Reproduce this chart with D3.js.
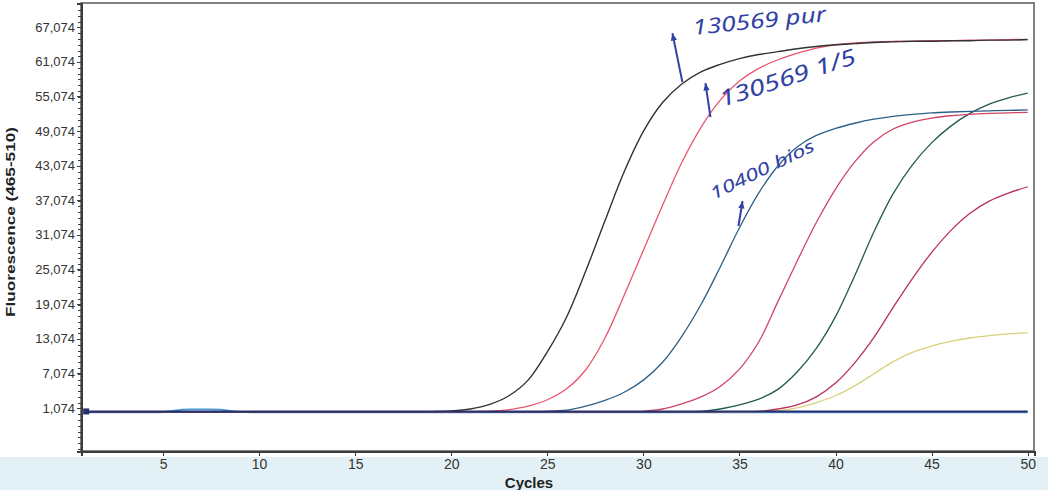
<!DOCTYPE html>
<html lang="en">
<head>
  <meta charset="UTF-8">
  <title>Amplification curves</title>
  <script src="https://d3js.org/d3.v7.min.js"></script>
  <style>
    body { margin: 0; background: #ffffff; }

    /* axis lines and ticks */
    .axis path,
    .axis line {
      fill: none;
      stroke: #3c3c3c;
      shape-rendering: crispEdges;
    }

    .axis text {
      font-family: "Liberation Sans", Arial, sans-serif;
      font-size: 13px;
      fill: #333;
    }

    .axis-label {
      font-family: "Liberation Sans", Arial, sans-serif;
      font-weight: bold;
      font-size: 13px;
      fill: #222;
    }

    .note {
      font-family: "Noto Sans", sans-serif;
      font-style: italic;
      fill: #3242a4;
    }
  </style>
</head>
<body>
<svg id="chart" width="1048" height="490"></svg>
<script>
  // cycle numbers (x) and read-off fluorescence values per run
  const cycles = [1,2,3,4,5,6,7,8,9,10,11,12,13,14,15,16,17,18,19,20,21,22,23,24,25,
                  26,27,28,29,30,31,32,33,34,35,36,37,38,39,40,41,42,43,44,45,46,47,48,49,50];

  const pur = [420,410,400,400,400,410,400,400,400,400,400,400,400,400,400,410,420,430,450,
               550,900,1700,3200,5900,10800,16800,24800,33500,42000,49000,54000,57200,59300,60600,61600,
               62300,62800,63300,63700,64000,64200,64400,64500,64600,64600,64700,64700,64800,64800,64900];

  const dil5 = [400,400,390,390,400,400,400,400,390,390,400,400,400,400,400,400,400,410,410,420,440,
                520,800,1400,2500,4400,7700,13200,20600,28400,36200,43600,49700,54400,57700,59900,61400,
                62500,63400,64000,64300,64500,64600,64600,64700,64700,64800,64800,64900,64900];

  const bios = [400,400,400,400,400,400,400,400,400,400,400,400,400,400,400,400,400,400,400,400,
                410,420,430,450,500,700,1400,2400,3800,5900,9000,13500,19000,25500,32300,38300,43000,
                46300,48300,49500,50400,51100,51600,51950,52200,52350,52450,52550,52620,52700];

  const run4 = [400,400,400,400,400,400,400,400,400,400,400,400,400,400,400,400,400,400,400,400,
                400,400,400,400,400,400,410,420,440,500,900,1800,3000,4800,7800,12500,19500,26500,33200,
                39000,43700,47200,49400,50600,51300,51700,51950,52100,52200,52300];

  const run5 = [400,400,400,400,400,400,400,400,400,400,400,400,400,400,400,400,400,400,400,400,
                400,400,400,400,400,400,400,400,400,400,400,450,500,900,1600,2600,4300,7300,11400,16900,
                24000,31600,38200,43200,47000,49900,52100,53700,54800,55600];

  const run6 = [400,400,400,400,400,400,400,400,400,400,400,400,400,400,400,400,400,400,400,400,
                400,400,400,400,400,400,400,400,400,400,400,400,400,420,450,500,900,1600,3000,5400,
                8900,13300,18500,23500,28000,31800,34800,36900,38300,39400];

  const run7 = [400,400,400,400,400,400,400,400,400,400,400,400,400,400,400,400,400,400,400,400,
                400,400,400,400,400,400,400,400,400,400,400,400,400,400,420,450,600,1100,2000,3200,
                4900,7000,9100,10700,11800,12600,13200,13600,13900,14100];

  // negative / flat runs
  const flatBlue = [300,300,310,310,380,800,820,780,400,320,310,300,300,300,300,300,300,300,300,300,
                    300,300,300,300,300,300,300,300,300,300,300,300,300,300,300,300,300,300,300,300,
                    300,300,300,300,300,300,300,300,300,300];
  const flatNavy = [480,470,460,460,460,460,460,460,460,460,460,460,460,460,460,470,470,460,460,460,
                    460,460,460,460,460,470,470,460,460,460,460,460,460,460,460,460,460,460,460,460,
                    460,470,480,480,480,480,480,470,470,470];

  const yTicks = [1074,7074,13074,19074,25074,31074,37074,43074,49074,55074,61074,67074];
  const yTickLabels = ["1,074","7,074","13,074","19,074","25,074","31,074","37,074","43,074",
                       "49,074","55,074","61,074","67,074"];
  const xTicks = [5,10,15,20,25,30,35,40,45,50];

  const series = [
    {values: flatBlue, color: "#4a96d6", width: 1.8},
    {values: run7, color: "#d9d07a", width: 1.3},
    {values: run6, color: "#b8305c", width: 1.3},
    {values: run5, color: "#1f5a50", width: 1.3},
    {values: run4, color: "#d24466", width: 1.3},
    {values: bios, color: "#2d6088", width: 1.3},
    {values: dil5, color: "#ea5670", width: 1.3},
    {values: pur, color: "#333333", width: 1.4},
    {values: flatNavy, color: "#26306e", width: 2}
  ];

  const svg = d3.select("#chart");

  const x = d3.scaleLinear().domain([0.73, 50.33]).range([81, 1034]);
  const y = d3.scaleLinear().domain([-6375, 71231]).range([451, 3]);

  // light band under the plot
  svg.append("rect")
     .attr("x", 0).attr("y", 457)
     .attr("width", 1048).attr("height", 33)
     .attr("fill", "#e3f1f6");

  svg.append("rect")
     .attr("x", 81).attr("y", 3)
     .attr("width", 953).attr("height", 448)
     .attr("fill", "#ffffff")
     .attr("stroke", "#5a5a5a")
     .attr("stroke-width", 1.5);

  const line = d3.line()
     .x((d, i) => x(cycles[i]))
     .y(d => y(d))
     .curve(d3.curveCatmullRom.alpha(0.5));

  svg.selectAll(".run")
     .data(series)
     .enter().append("path")
     .attr("class", "run")
     .attr("d", d => line(d.values))
     .attr("fill", "none")
     .attr("stroke", d => d.color)
     .attr("stroke-width", d => d.width);

  // start marker of the flat runs
  svg.append("rect")
     .attr("x", x(cycles[0]) - 3).attr("y", y(flatNavy[0]) - 3)
     .attr("width", 6).attr("height", 6)
     .attr("fill", "#26306e");

  // minor ticks on the y axis
  svg.append("g")
     .attr("class", "axis")
     .attr("transform", "translate(81,0)")
     .call(d3.axisLeft(y).tickValues(d3.range(-6000, 71000, 1000)).tickSize(3).tickFormat(""))
     .call(g => g.select(".domain").remove());

  svg.append("g")
     .attr("class", "axis")
     .attr("transform", "translate(81,0)")
     .call(d3.axisLeft(y).tickValues(yTicks).tickSize(4).tickPadding(2)
           .tickFormat((d, i) => yTickLabels[i]))
     .call(g => g.select(".domain").attr("stroke-width", 2));

  svg.append("g")
     .attr("class", "axis")
     .attr("transform", "translate(0,451)")
     .call(d3.axisBottom(x).tickValues(xTicks).tickSize(5).tickPadding(3))
     .call(g => g.select(".domain").attr("stroke-width", 2))
     .selectAll("text").style("font-size", "14px");

  svg.append("text")
     .attr("class", "axis-label")
     .attr("transform", "translate(15,222) rotate(-90)")
     .attr("textLength", 190)
     .attr("lengthAdjust", "spacingAndGlyphs")
     .style("text-anchor", "middle")
     .text("Fluorescence (465-510)");

  svg.append("text")
     .attr("class", "axis-label")
     .attr("x", 529).attr("y", 488)
     .style("font-size", "15px")
     .style("text-anchor", "middle")
     .text("Cycles");

  // handwritten notes, placed in data units
  const notes = [
    {text: "130569 pur", c: 32.6, v: 65680, rot: -6, size: 21, len: 134},
    {text: "130569 1/5", c: 34.1, v: 53210, rot: -18, size: 22, len: 142},
    {text: "10400 bios", c: 33.65, v: 37100, rot: -26, size: 17, len: 114}
  ];
  const arrows = [
    {c0: 32.03, v0: 57540, c1: 31.51, v1: 66020},
    {c0: 33.49, v0: 51470, c1: 33.23, v1: 57360},
    {c0: 34.95, v0: 32600, c1: 35.16, v1: 36930}
  ];

  svg.selectAll(".note")
     .data(notes)
     .enter().append("text")
     .attr("class", "note")
     .attr("transform", d => "translate(" + x(d.c) + "," + y(d.v) + ") rotate(" + d.rot + ")")
     .attr("textLength", d => d.len)
     .attr("lengthAdjust", "spacingAndGlyphs")
     .style("font-size", d => d.size + "px")
     .text(d => d.text);

  arrows.forEach(a => {
    const x0 = x(a.c0), y0 = y(a.v0), x1 = x(a.c1), y1 = y(a.v1);
    const ang = Math.atan2(y1 - y0, x1 - x0);
    svg.append("line")
       .attr("x1", x0).attr("y1", y0).attr("x2", x1).attr("y2", y1)
       .attr("stroke", "#3242a4").attr("stroke-width", 2);
    const h = 8;
    const p = [
      [x1, y1],
      [x1 - h * Math.cos(ang - 0.4), y1 - h * Math.sin(ang - 0.4)],
      [x1 - h * Math.cos(ang + 0.4), y1 - h * Math.sin(ang + 0.4)]
    ];
    svg.append("polygon")
       .attr("points", p.map(q => q.join(",")).join(" "))
       .attr("fill", "#3242a4");
  });
</script>
</body>
</html>
